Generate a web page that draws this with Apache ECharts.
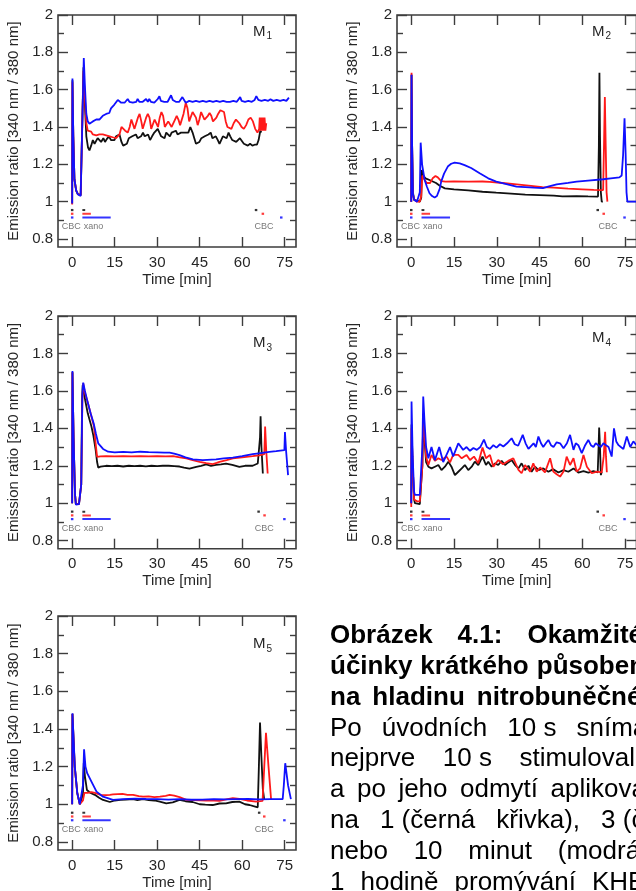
<!DOCTYPE html>
<html>
<head>
<meta charset="utf-8">
<script src="https://cdn.jsdelivr.net/npm/echarts@6/dist/echarts.min.js"></script>
<style>
  html, body { margin: 0; padding: 0; background: #fff; }
  #chart { width: 636px; height: 891px; }
</style>
</head>
<body>
<div id="chart"></div>
<script>
// ---- Tick values ----
const xTickValues = [0, 15, 30, 45, 60, 75];
const yMajorTicks = [0.8, 1, 1.2, 1.4, 1.6, 1.8, 2];
const yMinorTicks = [0.9, 1.1, 1.3, 1.5, 1.7, 1.9];

// ---- Protocol: CBC at start (10 s), xanomeline for 1 / 3 / 10 min ----
const cbcStart = 0;
const xanoStart = 3.6;
const xanoMinutes = [1, 3, 10];          // black, red, blue
const endCbcM1 = [64.9, 67.3, 73.8];
const endCbcM2 = [65.4, 67.5, 74.8];
const endCbcM3 = [65.8, 67.9, 74.9];
const endCbcM4 = [65.4, 67.5, 74.8];
const endCbcM5 = [66.0, 67.8, 74.9];

// ---- M1 traces: [time (min), emission ratio] ----
const m1Black = [[0,0.99],[0.1,1.65],[0.4,1.35],[0.8,1.12],[1.4,1.06],[2.0,1.04],[3.0,1.035],[3.7,1.03],[4.0,1.72],[4.4,1.55],[5.0,1.35],[5.6,1.29],[6.1,1.275],[6.7,1.30],[7.3,1.33],[7.9,1.31],[8.5,1.31],[9.0,1.34],[9.6,1.33],[10.2,1.32],[11.0,1.34],[11.6,1.32],[12.2,1.335],[13.0,1.35],[13.7,1.33],[14.3,1.34],[14.9,1.33],[15.5,1.35],[16.1,1.34],[16.7,1.36],[17.4,1.32],[18.0,1.30],[18.6,1.29],[19.3,1.31],[20.0,1.34],[20.6,1.33],[21.2,1.35],[21.9,1.34],[22.5,1.36],[23.1,1.34],[23.7,1.33],[24.3,1.35],[25.0,1.37],[25.6,1.35],[26.2,1.34],[26.8,1.36],[27.5,1.33],[28.2,1.35],[29.0,1.37],[29.6,1.36],[30.2,1.39],[30.8,1.37],[31.4,1.35],[32.0,1.36],[32.6,1.34],[33.2,1.37],[33.9,1.36],[34.5,1.35],[35.1,1.37],[35.8,1.36],[36.6,1.38],[37.2,1.36],[37.8,1.35],[38.4,1.37],[39.0,1.36],[39.6,1.37],[40.3,1.38],[41.0,1.37],[41.7,1.40],[42.5,1.37],[43.1,1.34],[43.7,1.31],[44.2,1.30],[44.9,1.32],[45.6,1.34],[46.2,1.33],[46.8,1.35],[47.5,1.34],[48.1,1.36],[48.9,1.37],[49.5,1.34],[50.1,1.33],[50.7,1.35],[51.4,1.33],[52.0,1.31],[52.6,1.32],[53.2,1.35],[53.8,1.36],[54.5,1.34],[55.2,1.37],[55.8,1.35],[56.5,1.33],[57.2,1.34],[57.9,1.32],[58.6,1.31],[59.2,1.34],[59.9,1.33],[60.6,1.31],[61.3,1.32],[62.0,1.30],[62.8,1.31],[63.6,1.30],[64.4,1.305],[65.2,1.305],[65.8,1.33],[66.4,1.38],[66.8,1.37]];
const m1Red = [[0,0.985],[0.1,1.64],[0.4,1.35],[0.8,1.12],[1.4,1.06],[2.0,1.04],[3.0,1.035],[3.7,1.025],[4.0,1.70],[4.4,1.58],[5.0,1.42],[5.5,1.38],[6.1,1.37],[6.7,1.375],[7.3,1.36],[7.9,1.365],[8.5,1.355],[9.0,1.365],[9.6,1.36],[10.2,1.35],[10.8,1.36],[11.4,1.35],[12.0,1.355],[12.6,1.345],[13.2,1.35],[13.7,1.34],[14.3,1.345],[14.9,1.35],[15.5,1.34],[16.1,1.345],[16.7,1.36],[17.4,1.40],[18.1,1.41],[18.7,1.38],[19.6,1.37],[20.3,1.40],[20.9,1.44],[21.5,1.43],[22.0,1.39],[22.6,1.40],[23.2,1.45],[23.8,1.47],[24.4,1.43],[24.9,1.39],[25.5,1.39],[26.1,1.45],[26.7,1.47],[27.3,1.45],[27.9,1.39],[28.5,1.40],[29.1,1.44],[29.7,1.43],[30.3,1.40],[30.9,1.45],[31.5,1.48],[32.1,1.46],[32.7,1.40],[33.3,1.39],[33.9,1.43],[34.5,1.44],[35.1,1.40],[35.7,1.40],[36.3,1.44],[36.9,1.46],[37.5,1.44],[38.1,1.41],[38.7,1.42],[39.3,1.47],[40.1,1.53],[40.7,1.50],[41.3,1.43],[41.9,1.42],[42.5,1.48],[43.1,1.49],[43.7,1.45],[44.3,1.41],[44.9,1.44],[45.5,1.48],[46.1,1.47],[46.7,1.44],[47.3,1.43],[47.9,1.46],[48.5,1.475],[49.1,1.46],[49.7,1.43],[50.3,1.42],[50.9,1.45],[51.5,1.47],[52.3,1.49],[53.0,1.50],[53.6,1.48],[54.2,1.43],[54.8,1.40],[55.4,1.39],[56.2,1.39],[57.0,1.42],[57.8,1.44],[58.4,1.44],[59.0,1.42],[59.8,1.40],[60.6,1.39],[61.4,1.41],[62.2,1.44],[63.0,1.45],[63.8,1.43],[64.6,1.39],[65.4,1.37],[66.0,1.39],[66.2,1.45],[66.4,1.38],[66.7,1.45],[67.0,1.38],[67.3,1.45],[67.6,1.38],[67.9,1.45],[68.2,1.38],[68.5,1.42]];
const m1Blue = [[0,0.99],[0.1,1.66],[0.4,1.35],[0.8,1.12],[1.4,1.06],[2.0,1.04],[3.0,1.03],[3.7,1.03],[4.1,1.77],[4.5,1.62],[5.0,1.47],[5.5,1.43],[6.1,1.418],[6.7,1.42],[7.3,1.43],[7.9,1.43],[8.5,1.44],[9.0,1.445],[9.6,1.44],[10.2,1.45],[10.8,1.46],[11.4,1.46],[12.0,1.47],[12.6,1.48],[13.1,1.475],[13.7,1.50],[14.3,1.51],[14.9,1.52],[15.5,1.53],[16.1,1.545],[16.7,1.535],[17.3,1.53],[17.9,1.535],[18.5,1.53],[19.1,1.535],[19.6,1.55],[20.2,1.535],[20.8,1.535],[21.4,1.53],[22.0,1.54],[22.6,1.535],[23.1,1.55],[23.7,1.535],[24.3,1.54],[24.9,1.535],[25.5,1.545],[26.1,1.55],[26.7,1.535],[27.2,1.55],[27.8,1.535],[28.4,1.535],[29.0,1.53],[29.6,1.54],[30.2,1.55],[30.8,1.565],[31.3,1.54],[31.9,1.535],[32.5,1.535],[33.1,1.54],[33.7,1.535],[34.3,1.545],[34.9,1.57],[35.5,1.545],[36.0,1.54],[36.6,1.535],[37.2,1.54],[37.8,1.535],[38.4,1.545],[38.9,1.56],[39.5,1.545],[40.1,1.53],[40.7,1.535],[41.3,1.54],[42.5,1.535],[43.7,1.54],[44.9,1.535],[46.1,1.54],[47.3,1.535],[48.5,1.54],[49.7,1.535],[50.9,1.54],[52.1,1.535],[53.3,1.54],[54.5,1.535],[55.7,1.535],[56.9,1.54],[58.1,1.535],[58.8,1.54],[59.3,1.56],[59.8,1.54],[61.0,1.535],[62.2,1.54],[63.4,1.535],[64.4,1.545],[65.0,1.565],[65.7,1.545],[66.8,1.54],[68.0,1.545],[69.2,1.54],[70.0,1.548],[71.0,1.54],[72.2,1.545],[73.4,1.54],[74.6,1.545],[75.6,1.54],[76.5,1.557]];

// ---- M2 traces ----
const m2Black = [[0,1.0],[0.1,1.68],[0.3,1.3],[0.6,1.05],[1.0,1.01],[2.0,1.005],[3.0,1.0],[3.5,1.02],[3.7,1.17],[4.2,1.14],[5.0,1.125],[6.4,1.116],[8.7,1.10],[10.0,1.085],[11.8,1.071],[15,1.066],[20,1.06],[25,1.053],[29.8,1.048],[35,1.043],[40,1.038],[45,1.035],[50,1.032],[53,1.028],[58,1.03],[62,1.028],[65.5,1.027],[65.8,1.30],[66.0,1.69],[66.2,1.35],[66.5,1.05],[66.8,1.0],[67.2,1.0]];
const m2Red = [[0,1.0],[0.1,1.69],[0.3,1.3],[0.6,1.04],[1.0,1.01],[2.0,1.0],[2.6,0.995],[3.0,1.0],[3.5,1.03],[3.9,1.14],[4.6,1.12],[5.4,1.10],[5.9,1.09],[6.6,1.10],[7.5,1.125],[8.5,1.137],[9.3,1.13],[10.5,1.11],[12,1.107],[15,1.108],[20,1.107],[25,1.108],[27.5,1.106],[32,1.10],[37,1.093],[42,1.085],[46,1.078],[50,1.075],[55,1.07],[60,1.066],[64,1.063],[67.3,1.062],[67.6,1.30],[67.9,1.56],[68.2,1.30],[68.5,1.05],[68.8,1.0]];
const m2Blue = [[0,1.0],[0.1,1.68],[0.3,1.3],[0.6,1.04],[1.0,1.01],[2.0,1.0],[2.6,1.0],[3.0,1.05],[3.3,1.316],[3.8,1.2],[4.7,1.116],[5.5,1.08],[6.4,1.045],[7.3,1.03],[8.2,1.022],[9.0,1.03],[10.0,1.07],[10.5,1.107],[11.5,1.15],[12.9,1.19],[14,1.203],[15.2,1.209],[17,1.205],[18.7,1.196],[21,1.18],[24,1.152],[27,1.125],[29.8,1.107],[33,1.095],[36.9,1.08],[40,1.078],[43,1.075],[46.2,1.072],[48,1.08],[51,1.092],[55,1.10],[58,1.107],[62,1.113],[67.3,1.12],[70,1.125],[73,1.13],[73.8,1.14],[74.3,1.25],[74.8,1.446],[75.2,1.25],[75.5,1.05],[75.8,1.0],[77,1.0],[79,1.0]];

// ---- M3 traces ----
const m3Black = [[0,1.0],[0.1,1.70],[0.5,1.35],[1.0,1.05],[1.3,0.995],[1.8,0.99],[2.4,0.995],[2.9,1.0],[3.2,1.1],[3.5,1.55],[3.7,1.63],[4.1,1.60],[4.6,1.55],[5.5,1.48],[6.8,1.41],[7.5,1.36],[8.3,1.283],[8.8,1.22],[9.2,1.19],[10,1.195],[12,1.2],[14,1.198],[16,1.2],[18,1.196],[20,1.2],[22,1.198],[24,1.2],[26,1.197],[28,1.2],[30,1.198],[32,1.2],[34,1.2],[36,1.198],[37.9,1.196],[39.5,1.19],[41.4,1.185],[43.8,1.194],[45.5,1.2],[47.3,1.207],[49,1.2],[50.8,1.205],[52.5,1.208],[54.3,1.212],[56.5,1.205],[59,1.194],[61,1.2],[63.7,1.2],[65.5,1.212],[66.1,1.218],[66.3,1.35],[66.5,1.465],[66.8,1.30],[67.3,1.159]];
const m3Red = [[0,1.0],[0.1,1.70],[0.5,1.35],[1.0,1.05],[1.3,0.995],[1.8,0.99],[2.4,0.995],[2.9,1.0],[3.2,1.1],[3.6,1.55],[3.9,1.64],[4.5,1.59],[5.6,1.533],[6.5,1.48],[7.7,1.41],[8.2,1.33],[8.8,1.248],[10,1.25],[12,1.252],[15,1.25],[18,1.252],[21,1.25],[24,1.252],[27,1.25],[30,1.252],[33,1.25],[35.6,1.251],[38,1.245],[40.3,1.239],[42.5,1.23],[45,1.221],[47.3,1.214],[49.6,1.209],[51,1.215],[52,1.221],[54.5,1.23],[56.7,1.239],[60,1.245],[63.7,1.251],[66,1.255],[67.8,1.262],[68.0,1.35],[68.1,1.41],[68.5,1.28],[69,1.159]];
const m3Blue = [[0,1.0],[0.1,1.706],[0.5,1.35],[1.0,1.05],[1.3,0.993],[1.8,0.99],[2.4,0.995],[2.9,1.005],[3.2,1.1],[3.6,1.58],[3.9,1.644],[4.5,1.60],[5.3,1.55],[6.5,1.48],[7.6,1.426],[8.4,1.37],[9.2,1.32],[10.9,1.29],[12.7,1.275],[15,1.272],[18,1.274],[21,1.272],[24,1.275],[27,1.273],[30,1.272],[32.5,1.27],[34.4,1.27],[36,1.265],[37.9,1.257],[40,1.245],[42.6,1.234],[46.1,1.23],[50.8,1.234],[53.5,1.24],[56.7,1.244],[60,1.252],[63.7,1.262],[66.5,1.268],[69.6,1.274],[72,1.278],[74.9,1.283],[75.0,1.33],[75.1,1.38],[75.5,1.28],[76.2,1.15]];

// ---- M4 traces ----
const m4Black = [[0,1.0],[0.1,1.42],[0.5,1.2],[1.0,1.02],[1.3,1.0],[2,0.995],[3,0.995],[3.6,1.0],[3.9,1.2],[4.2,1.45],[4.6,1.35],[5.2,1.22],[6.0,1.195],[7.1,1.186],[8.3,1.195],[9.5,1.204],[10.6,1.177],[11.8,1.195],[13.0,1.222],[14.1,1.195],[15.3,1.150],[16.5,1.168],[17.7,1.186],[18.8,1.204],[20.0,1.177],[21.2,1.195],[22.3,1.222],[23.5,1.204],[25.0,1.249],[26.2,1.204],[27.0,1.222],[28.2,1.195],[29.4,1.213],[30.5,1.204],[31.7,1.226],[32.9,1.204],[34.0,1.218],[35.2,1.231],[36.4,1.204],[37.6,1.186],[38.7,1.213],[39.9,1.177],[41.1,1.2],[42.2,1.168],[43.4,1.195],[44.6,1.177],[46.3,1.186],[48.1,1.168],[49.8,1.182],[51.6,1.164],[53.4,1.177],[55.1,1.168],[56.9,1.186],[58.6,1.164],[60.4,1.171],[62.1,1.164],[63.9,1.171],[65.4,1.165],[65.7,1.3],[65.9,1.404],[66.2,1.3],[66.5,1.15],[66.8,1.168]];
const m4Red = [[0,0.98],[0.1,1.40],[0.5,1.2],[1.0,1.02],[1.3,1.01],[2,1.01],[3,1.01],[3.6,1.02],[3.9,1.2],[4.2,1.47],[4.6,1.38],[5.2,1.25],[6.0,1.204],[7.1,1.258],[8.3,1.226],[9.5,1.240],[10.6,1.231],[12.4,1.249],[13.6,1.218],[14.7,1.258],[16.5,1.258],[17.7,1.240],[19.4,1.258],[20.6,1.231],[22.0,1.249],[23.5,1.213],[25.0,1.297],[26.2,1.240],[27.6,1.258],[28.8,1.195],[30.5,1.231],[32.2,1.208],[34.0,1.226],[35.8,1.240],[37.6,1.178],[38.7,1.160],[39.9,1.204],[41.7,1.169],[42.8,1.213],[44.0,1.169],[45.2,1.191],[46.9,1.165],[48.7,1.240],[49.8,1.169],[51.0,1.155],[52.2,1.142],[53.4,1.169],[54.5,1.249],[55.7,1.204],[56.9,1.240],[58.0,1.169],[59.2,1.186],[60.4,1.258],[61.6,1.195],[63.3,1.160],[65.1,1.169],[66.8,1.165],[67.5,1.25],[68.0,1.382],[68.3,1.25],[68.6,1.165]];
const m4Blue = [[0,1.0],[0.1,1.543],[0.5,1.25],[1.0,1.06],[1.3,1.044],[2,1.044],[3,1.044],[3.6,1.05],[3.9,1.3],[4.2,1.57],[4.6,1.45],[5.2,1.30],[6.0,1.24],[7.1,1.30],[8.3,1.23],[9.8,1.30],[11.2,1.22],[12.4,1.26],[13.6,1.30],[14.7,1.25],[16.5,1.32],[18.2,1.285],[19.4,1.30],[20.6,1.28],[21.8,1.295],[23.0,1.285],[24.2,1.30],[25.5,1.34],[26.5,1.30],[27.6,1.29],[28.8,1.31],[29.9,1.297],[31.1,1.315],[32.3,1.303],[33.6,1.32],[35.2,1.347],[36.3,1.315],[37.5,1.307],[39.1,1.365],[40.1,1.32],[41.1,1.29],[42.9,1.32],[43.7,1.30],[44.6,1.356],[45.5,1.32],[46.3,1.30],[47.2,1.32],[48.1,1.338],[49.0,1.31],[49.9,1.30],[51.0,1.325],[52.2,1.32],[53.4,1.294],[54.6,1.32],[55.7,1.365],[56.9,1.285],[57.7,1.32],[58.6,1.31],[59.8,1.267],[61.0,1.31],[62.1,1.338],[63.0,1.31],[63.9,1.30],[64.7,1.32],[65.6,1.31],[66.5,1.30],[67.4,1.32],[68.3,1.31],[69.2,1.30],[70.3,1.249],[71.1,1.40],[71.9,1.33],[72.7,1.31],[73.5,1.30],[74.4,1.29],[75.6,1.356],[76.8,1.30],[77.9,1.33],[79,1.31]];

// ---- M5 traces ----
const m5Black = [[0,1.0],[0.1,1.48],[0.9,1.2],[1.8,1.06],[2.7,1.0],[3.3,1.0],[3.8,1.05],[4.1,1.22],[4.5,1.15],[5.2,1.076],[6.5,1.06],[8.0,1.05],[9.5,1.035],[10.9,1.023],[13.3,1.012],[15,1.02],[17,1.023],[19,1.025],[21.5,1.027],[23,1.022],[25,1.027],[27,1.022],[29,1.02],[30.9,1.014],[33.2,1.005],[35.5,1.01],[37.9,1.023],[40,1.016],[42.5,1.012],[45,1.0],[47,0.998],[49.6,0.996],[52,1.004],[54.3,1.005],[56.5,1.012],[59,1.014],[61,1.0],[62.6,0.996],[64,0.99],[65.5,0.984],[65.9,1.2],[66.3,1.434],[66.8,1.25],[67.3,1.08],[67.8,1.023]];
const m5Red = [[0,1.0],[0.1,1.48],[0.9,1.2],[1.8,1.06],[2.7,1.0],[3.3,1.0],[3.8,1.02],[4.3,1.06],[5.5,1.06],[6.8,1.065],[8.0,1.06],[10,1.05],[12,1.048],[13.3,1.05],[14.4,1.052],[17.8,1.055],[19.5,1.05],[21.5,1.05],[23.5,1.043],[25,1.04],[27,1.042],[29,1.038],[31,1.04],[33,1.045],[34.4,1.05],[36,1.046],[37.9,1.038],[40.3,1.023],[43,1.022],[47.3,1.02],[50,1.02],[52,1.018],[54,1.025],[56.7,1.032],[59,1.028],[61.7,1.02],[64.9,1.014],[67.2,1.018],[67.8,1.2],[68.4,1.38],[69.3,1.2],[70.2,1.027]];
const m5Blue = [[0,1.0],[0.1,1.483],[0.94,1.2],[1.8,1.06],[2.7,1.0],[3.3,1.0],[3.8,1.1],[4.2,1.292],[4.7,1.20],[5.3,1.165],[6.8,1.12],[8.6,1.067],[10.9,1.04],[14.4,1.023],[18,1.027],[22,1.03],[26,1.028],[30,1.027],[34,1.025],[38,1.027],[42,1.024],[46,1.025],[50,1.027],[54,1.026],[58,1.027],[62,1.028],[66,1.026],[70,1.027],[74.3,1.027],[74.7,1.1],[75.2,1.218],[76.2,1.1],[77.2,1.027]];

// ---- Caption text (each line continues past the right edge) ----
const captionLines = [
  { bold: true,  words: ['Obrázek', '4.1:', 'Okamžité'] },
  { bold: true,  words: ['účinky', 'krátkého', 'působení'] },
  { bold: true,  words: ['na', 'hladinu', 'nitrobuněčného'] },
  { bold: false, words: ['Po', 'úvodních', '10 s', 'snímání'] },
  { bold: false, words: ['nejprve', '10 s', 'stimulovali'] },
  { bold: false, words: ['a', 'po', 'jeho', 'odmytí', 'aplikovali'] },
  { bold: false, words: ['na', '1 (černá', 'křivka),', '3 (červená'] },
  { bold: false, words: ['nebo', '10', 'minut', '(modrá'] },
  { bold: false, words: ['1', 'hodině', 'promývání', 'KHB'] }
];

// ---- Panel assembly ----
const panels = [
  { sub: '1', traces: [m1Black, m1Red, m1Blue], endCbc: endCbcM1, endLabelAt: 67.7 },
  { sub: '2', traces: [m2Black, m2Red, m2Blue], endCbc: endCbcM2, endLabelAt: 69.0 },
  { sub: '3', traces: [m3Black, m3Red, m3Blue], endCbc: endCbcM3, endLabelAt: 67.8 },
  { sub: '4', traces: [m4Black, m4Red, m4Blue], endCbc: endCbcM4, endLabelAt: 69.0 },
  { sub: '5', traces: [m5Black, m5Red, m5Blue], endCbc: endCbcM5, endLabelAt: 67.8 }
];

const FONT = '"Liberation Sans", Arial, Helvetica, sans-serif';
const AXIS_COLOR = '#3d3d3d';
const TEXT_COLOR = '#262626';
const TRACE_COLORS = ['#111111', '#ff1a1a', '#1010ff'];
const ROW_LEVELS = [0.955, 0.935, 0.915];   // protocol marker rows
const LABEL_LEVEL = 0.866;
const Y_MIN = 0.757, Y_MAX = 2, X_MIN = -5, X_MAX = 79;

const gridBoxes = [
  { left: 58,  top: 15,  width: 238,   height: 232 },
  { left: 397, top: 15,  width: 239.5, height: 232 },
  { left: 58,  top: 316, width: 238,   height: 232.7 },
  { left: 397, top: 316, width: 239.5, height: 232.7 },
  { left: 58,  top: 616, width: 238,   height: 234 }
];
const labelOffsets = [16.7, 16.7, 27, 22, 28];

const grid = [], xAxis = [], yAxis = [], series = [], graphic = [];

panels.forEach((p, i) => {
  const box = gridBoxes[i];
  grid.push(Object.assign({
    show: true, borderColor: AXIS_COLOR, borderWidth: 1.6,
    backgroundColor: 'transparent', containLabel: false, outerBoundsMode: 'none'
  }, box));

  const tickStyle = { color: AXIS_COLOR, width: 1.4 };
  const xBase = {
    gridIndex: i, type: 'value', min: X_MIN, max: X_MAX,
    axisLine: { show: false, onZero: false }, splitLine: { show: false }
  };
  xAxis.push(Object.assign({}, xBase, {
    position: 'bottom',
    axisTick: { show: true, inside: true, length: 10, customValues: xTickValues, lineStyle: tickStyle },
    axisLabel: { show: true, customValues: xTickValues, fontSize: 15, color: TEXT_COLOR, fontFamily: FONT, margin: 8 },
    name: 'Time [min]', nameLocation: 'middle', nameGap: 25,
    nameTextStyle: { fontSize: 15, color: TEXT_COLOR, fontFamily: FONT }
  }));
  xAxis.push(Object.assign({}, xBase, {
    position: 'top',
    axisTick: { show: true, inside: true, length: 10, customValues: xTickValues, lineStyle: tickStyle },
    axisLabel: { show: false }
  }));

  const yBase = {
    gridIndex: i, type: 'value', min: Y_MIN, max: Y_MAX,
    axisLine: { show: false, onZero: false }, splitLine: { show: false }
  };
  yAxis.push(Object.assign({}, yBase, {
    position: 'left',
    axisTick: { show: true, inside: true, length: 10, customValues: yMajorTicks, lineStyle: tickStyle },
    axisLabel: { show: true, customValues: yMajorTicks, fontSize: 15, color: TEXT_COLOR, fontFamily: FONT, margin: 5 },
    name: 'Emission ratio [340 nm / 380 nm]', nameLocation: 'middle', nameGap: 37, nameRotate: 90,
    nameTextStyle: { fontSize: 15, color: TEXT_COLOR, fontFamily: FONT }
  }));
  yAxis.push(Object.assign({}, yBase, {
    position: 'left',
    axisTick: { show: true, inside: true, length: 6, customValues: yMinorTicks, lineStyle: tickStyle },
    axisLabel: { show: false }
  }));
  yAxis.push(Object.assign({}, yBase, {
    position: 'right',
    axisTick: { show: true, inside: true, length: 10, customValues: yMajorTicks, lineStyle: tickStyle },
    axisLabel: { show: false }
  }));
  yAxis.push(Object.assign({}, yBase, {
    position: 'right',
    axisTick: { show: true, inside: true, length: 6, customValues: yMinorTicks, lineStyle: tickStyle },
    axisLabel: { show: false }
  }));

  const xi = i * 2, yi = i * 4;

  // protocol markers: CBC pulses (dots) and xanomeline exposure (bars)
  const dotSeries = (times) => ({
    type: 'scatter', xAxisIndex: xi, yAxisIndex: yi, silent: true, symbol: 'rect', symbolSize: [2.5, 2.2],
    data: times.map((t, k) => ({ value: [t, ROW_LEVELS[k]], itemStyle: { color: TRACE_COLORS[k], opacity: 0.85 } })),
    z: 2
  });
  series.push(dotSeries([cbcStart, cbcStart, cbcStart]));
  series.push(dotSeries(p.endCbc));
  xanoMinutes.forEach((d, k) => {
    series.push({
      type: 'line', xAxisIndex: xi, yAxisIndex: yi, silent: true, showSymbol: false,
      data: [[xanoStart, ROW_LEVELS[k]], [xanoStart + d, ROW_LEVELS[k]]],
      lineStyle: { color: TRACE_COLORS[k], width: 2, opacity: 0.85 }, z: 2
    });
  });
  series.push({
    type: 'scatter', xAxisIndex: xi, yAxisIndex: yi, silent: true, symbolSize: 0,
    data: [
      { value: [cbcStart - 0.3, LABEL_LEVEL], name: 'CBC', label: { position: 'inside' } },
      { value: [4.1, LABEL_LEVEL], name: 'xano', label: { position: 'right', distance: 0 } },
      { value: [p.endLabelAt, LABEL_LEVEL], name: 'CBC', label: { position: 'inside' } }
    ],
    label: { show: true, formatter: '{b}', fontSize: 9, color: '#555', fontFamily: FONT },
    z: 2
  });

  // measured traces
  p.traces.forEach((tr, k) => {
    series.push({
      type: 'line', xAxisIndex: xi, yAxisIndex: yi, silent: true, showSymbol: false,
      data: tr, lineStyle: { color: TRACE_COLORS[k], width: 1.8 }, z: 3 + k
    });
  });

  // panel label M with subscript
  graphic.push({
    type: 'text', x: box.left + 195, y: box.top + labelOffsets[i],
    style: { text: 'M', fontSize: 15, fontFamily: FONT, fill: TEXT_COLOR, verticalAlign: 'middle' }
  });
  graphic.push({
    type: 'text', x: box.left + 208.5, y: box.top + labelOffsets[i] + 5,
    style: { text: p.sub, fontSize: 10, fontFamily: FONT, fill: TEXT_COLOR, verticalAlign: 'middle' }
  });
});

// ---- Caption layout: justified lines, word gaps spread across the column ----
const CAPTION_SIZE = 26;
const CAPTION_LEFT = 330;
const captionGaps = [25, 8, 12, 20, 27.5, 12.5, 21, 25.8, 16];
const measureCtx = document.createElement('canvas').getContext('2d');
captionLines.forEach((line, li) => {
  const y = 636 + li * 30.8;
  const weight = line.bold ? 'bold' : 'normal';
  measureCtx.font = weight + ' ' + CAPTION_SIZE + 'px ' + FONT;
  let x = CAPTION_LEFT;
  line.words.forEach((w) => {
    graphic.push({
      type: 'text', x: x, y: y,
      style: { text: w, fontSize: CAPTION_SIZE, fontWeight: weight,
               fontFamily: FONT, fill: '#000', verticalAlign: 'middle' }
    });
    x += measureCtx.measureText(w).width + captionGaps[li];
  });
});

const chart = echarts.init(document.getElementById('chart'), null, { renderer: 'canvas', width: 636, height: 891 });
chart.setOption({
  animation: false,
  backgroundColor: '#ffffff',
  grid, xAxis, yAxis, series, graphic
});
</script>
</body>
</html>
